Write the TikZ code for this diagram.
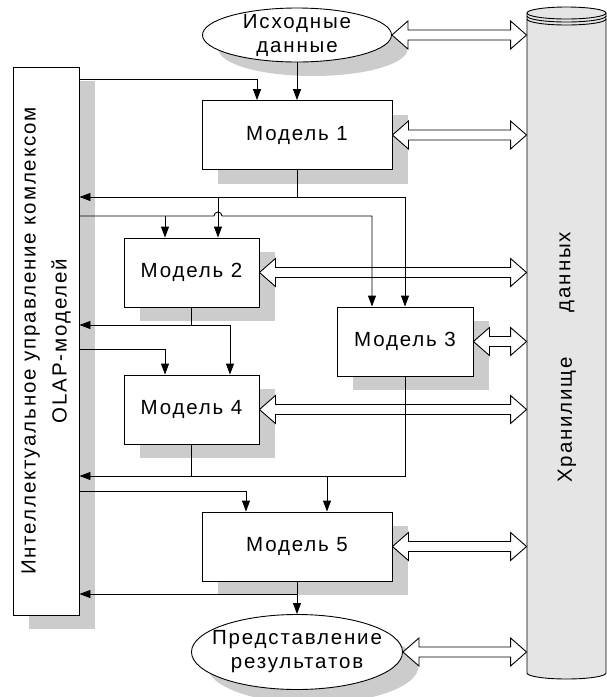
\documentclass[tikz,border=0pt]{standalone}
\usepackage{fontspec}
\setmainfont{Liberation Sans}[LetterSpace=9]
\usetikzlibrary{arrows.meta,shapes.geometric,shadows,calc}
\definecolor{shadowgrey}{gray}{0.8}
\definecolor{storegrey}{gray}{0.9}

% wide hollow two-headed arrow between two points at one height
\newcommand{\dataarrow}[2]{%
  \draw[fill=white] (#1) -- ++(16,-14) -- ++(0,9) -- ($(#2)+(-16,-5)$) -- ++(0,-9)
    -- (#2) -- ++(-16,14) -- ++(0,-9) -- ($(#1)+(16,5)$) -- ++(0,9) -- cycle;}

\begin{document}
\begin{tikzpicture}[x=1pt,y=-1pt,line width=0.9pt,
  >={Triangle[length=11pt,width=8pt]},
  dropgrey/.style={general shadow={fill=shadowgrey,shadow xshift=16pt,shadow yshift=-14pt}},
  model/.style={draw,fill=white,dropgrey,minimum height=69pt,inner sep=0pt,
    font=\fontsize{20.5}{24}\selectfont},
  oval/.style={ellipse,draw,fill=white,dropgrey,inner xsep=-12pt,inner ysep=-5pt,align=center,
    font=\fontsize{20.5}{24}\selectfont}]
\useasboundingbox (0,0) rectangle (607,697);

% storage
\fill[storegrey] (527,13) -- (527,673) arc[start angle=180,end angle=360,x radius=39.5pt,y radius=6pt] -- (606,13) -- cycle;
\draw (527,13) -- (527,673) arc[start angle=180,end angle=360,x radius=39.5pt,y radius=6pt] -- (606,13);
\draw[fill=storegrey] (566.5,13) ellipse [x radius=39.5pt,y radius=6pt];
\foreach \ring in {16,19}
  \draw (527,\ring) arc[start angle=180,end angle=360,x radius=39.5pt,y radius=6pt];
\node[minimum width=79pt,minimum height=660pt] (store) at (566.5,343) {};
\node[rotate=90,font=\fontsize{20.5}{24}\selectfont] (storeA) at (567,420) {Хранилище};
\node[rotate=90,font=\fontsize{20.5}{24}\selectfont] (storeB) at (567,272) {данных};

% control block
\node[draw,fill=white,dropgrey,minimum width=66pt,minimum height=548pt] (ctrl) at (46,341) {};
\node[rotate=90,align=center,font=\fontsize{20.5}{31}\selectfont] (ctrltext) at (ctrl.center)
  {Интеллектуальное управление комлексом\\OLAP-моделей};

\node[oval,minimum width=189pt,minimum height=54pt] (src) at (297,35) {Исходные\\данные};
\node[model,minimum width=190pt] (m1) at (297,135) {Модель 1};
\node[model,minimum width=135pt] (m2) at (191.5,272.5) {Модель 2};
\node[model,minimum width=136pt] (m3) at (405,341.5) {Модель 3};
\node[model,minimum width=135pt] (m4) at (191.5,409.5) {Модель 4};
\node[model,minimum width=190pt] (m5) at (297,546.5) {Модель 5};
\node[oval,minimum width=211pt,minimum height=75pt] (res) at (297,652) {Представление\\результатов};

\foreach \n in {src,m1,m2,m3,m4,m5,res}
  \dataarrow{\n.east}{\n.east -| store.west};

% to model 1
\coordinate (kA) at (257,79);
\draw[->] (kA -| ctrl.east) -- (kA) -- (kA |- m1.north);
\draw[->] (src.south) -- (m1.north);

% out of model 1
\coordinate (kB) at (297,197);
\coordinate (kB2) at (218,197);
\draw[->] (m1.south) -- (kB) -- (kB -| ctrl.east);
\draw[->] (kB) -| (m3.north);
\draw[->] (kB2) -- (kB2 |- m2.north);

% to models 2 and 3
\coordinate (kC) at (165,216);
\coordinate (kC2) at (372,216);
\draw[->] (kC -| ctrl.east) -- ($(kB2 |- kC)+(-4,0)$) arc[start angle=180,end angle=0,radius=4pt]
  -- (kC2) -- (kC2 |- m3.north);
\draw[->] (kC) -- (kC |- m2.north);

% out of model 2
\coordinate (kD) at (230,325);
\draw[->] (m2.south) -- (m2.south |- kD) -- (kD -| ctrl.east);
\draw[->] (m2.south |- kD) -- (kD) -- (kD |- m4.north);

% to model 4
\coordinate (kE) at (165,349);
\draw[->] (kE -| ctrl.east) -- (kE) -- (kE |- m4.north);

% out of models 3 and 4
\coordinate (kF) at (327,476);
\draw[->] (m3.south) -- (m3.south |- kF) -- (kF -| ctrl.east);
\draw (m4.south) -- (m4.south |- kF);
\draw[->] (kF) -- (kF |- m5.north);

% to model 5
\coordinate (kG) at (246,491);
\draw[->] (kG -| ctrl.east) -- (kG) -- (kG |- m5.north);

% out of model 5
\coordinate (kH) at (297,594);
\draw[->] (m5.south) -- (res.north);
\draw[->] (kH) -- (kH -| ctrl.east);
\end{tikzpicture}
\end{document}
